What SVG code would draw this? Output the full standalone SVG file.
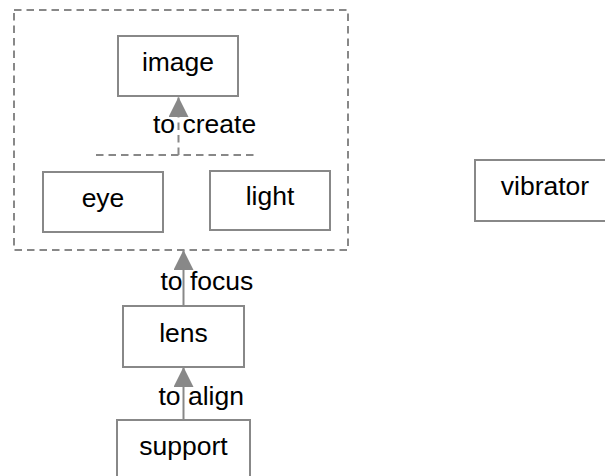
<svg xmlns="http://www.w3.org/2000/svg" width="605" height="476" viewBox="0 0 605 476">
  <style>
    .box { fill: #ffffff; stroke: #888888; stroke-width: 2; }
    .group { fill: none; stroke: #888888; stroke-width: 2; stroke-dasharray: 7.5 5; }
    .edge { fill: none; stroke: #888888; stroke-width: 2; }
    .dashed { stroke-dasharray: 7.5 5; }
    text { font-family: "Liberation Sans", Arial, sans-serif; font-size: 26.5px; fill: #000000; }
    .c { text-anchor: middle; }
  </style>
  <defs>
    <marker id="arrow" viewBox="0 0 20 20" refX="20" refY="10" markerWidth="20" markerHeight="20" markerUnits="userSpaceOnUse" orient="auto">
      <path d="M0,0 L20,10 L0,20 Z" fill="#888888"/>
    </marker>
  </defs>

  <rect width="605" height="476" fill="#ffffff"/>

  <!-- cluster boundary -->
  <g id="cluster">
    <rect class="group" x="14" y="10" width="334" height="240"/>
  </g>

  <!-- connectors -->
  <g id="edges">
    <path class="edge dashed" d="M96,155 H254"/>
    <path class="edge dashed" d="M178.5,155 V97" marker-end="url(#arrow)"/>
    <text x="153" y="133">to create</text>
    <path class="edge" d="M183.5,306 V250" marker-end="url(#arrow)"/>
    <text x="160.5" y="290">to focus</text>
    <path class="edge" d="M183.5,420 V367" marker-end="url(#arrow)"/>
    <text x="158.5" y="405">to align</text>
  </g>

  <g id="image">
    <rect class="box" x="118" y="36" width="120" height="60"/>
    <text class="c" x="178" y="71">image</text>
  </g>
  <g id="eye">
    <rect class="box" x="43" y="172" width="120" height="60"/>
    <text class="c" x="103" y="207">eye</text>
  </g>
  <g id="light">
    <rect class="box" x="210" y="171" width="120" height="59"/>
    <text class="c" x="270" y="205">light</text>
  </g>
  <g id="lens">
    <rect class="box" x="123" y="306" width="121" height="61"/>
    <text class="c" x="183.5" y="342">lens</text>
  </g>
  <g id="support">
    <rect class="box" x="117" y="420" width="133" height="66"/>
    <text class="c" x="183.5" y="455">support</text>
  </g>
  <g id="vibrator">
    <rect class="box" x="475" y="160" width="140" height="61"/>
    <text class="c" x="545" y="195">vibrator</text>
  </g>
</svg>
